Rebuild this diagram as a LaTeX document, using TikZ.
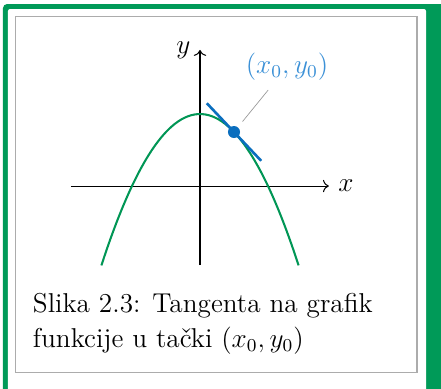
\documentclass[tikz,border=0pt,12pt]{standalone}
\usepackage{amsmath}
\usepackage{tikz}
\usetikzlibrary{positioning,arrows.meta,calc}
\definecolor{frameGreen}{RGB}{0,154,88}
\definecolor{curveGreen}{RGB}{0,150,85}
\definecolor{tangBlue}{RGB}{10,110,190}
\definecolor{lblBlue}{RGB}{60,145,215}
\begin{document}
\begin{tikzpicture}[
  x=14.96pt, y=15.84pt,
  >=To,
  every node/.style={font=\fontsize{12}{15}\selectfont},
  ax/.style={->, line width=0.45pt},
  curve/.style={draw=curveGreen, line width=0.9pt},
  tang/.style={draw=tangBlue, line width=1.15pt},
  dot/.style={circle, fill=tangBlue, inner sep=0pt, minimum size=5.3pt},
  lbl/.style={text=lblBlue},
  pinline/.style={draw=gray!80, line width=0.3pt, shorten <=3.1pt},
  captext/.style={align=left, inner sep=0pt, anchor=base west}
]
\clip (-5.882,-5.611) rectangle (7.088,5.167);
% frame
\fill[frameGreen, rounded corners=1.8pt] (-5.794,-6.5) rectangle (7.5,5.056);
\fill[white, rounded corners=0.9pt] (-5.647,-7) rectangle (6.647,4.917);
\draw[gray!65, line width=0.45pt] (-5.412,-5.167) rectangle (6.382,4.722);

% axes
\coordinate (O) at (0,0);
\draw[ax] (-3.8,0) -- (3.79,0) node[right] (xl) {$x$};
\draw[ax] (0,-2.2) -- (0,3.78) node[left] (yl) {$y$};

% graph and tangent
\draw[curve] plot[domain=-2.9:2.9, samples=60, smooth] (\x, {2-0.5*\x*\x});
\coordinate (T1) at (0.2,2.3);
\coordinate (T2) at (1.8,0.7);
\draw[tang] (T1) -- (T2);
\node[dot] (P) at (1,1.5) {};
\node[lbl] (L) at (2.56,3.31) {$(x_0,y_0)$};
\draw[pinline] (P) -- (L);

% caption (base = last line)
\node[captext] (C) at (-4.926,-4.472) {Slika 2.3: Tangenta na grafik\\funkcije u tački $(x_0,y_0)$};
\end{tikzpicture}
\end{document}
